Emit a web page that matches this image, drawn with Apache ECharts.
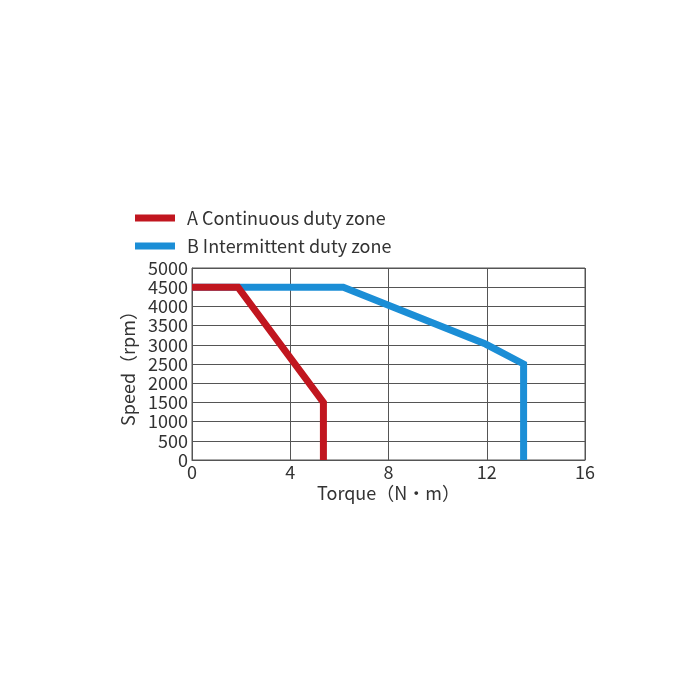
<!DOCTYPE html>
<html><head><meta charset="utf-8">
<script src="https://cdn.jsdelivr.net/npm/echarts@6/dist/echarts.min.js"></script>
<style>html,body{margin:0;padding:0;background:#fff}#c{width:700px;height:700px}</style>
</head><body><div id="c"></div>
<script>
const seriesNames = ['A Continuous duty zone', 'B Intermittent duty zone'];
const xTicks = [0, 4, 8, 12, 16];
const yTicks = [0, 500, 1000, 1500, 2000, 2500, 3000, 3500, 4000, 4500, 5000];
const redTorque = [0, 1.87, 5.35, 5.35];
const redSpeed = [4500, 4500, 1500, 0];
const blueTorque = [0, 6.16, 11.95, 13.5, 13.5];
const blueSpeed = [4500, 4500, 3020, 2500, 0];

const font = '"Noto Sans CJK SC","Noto Sans",sans-serif';
const chart = echarts.init(document.getElementById('c'));
chart.setOption({
  animation: false,
  textStyle: {fontFamily: font},
  legend: {
    orient: 'vertical', left: 130, top: 204, itemGap: 10,
    itemWidth: 40, itemHeight: 7,
    icon: 'rect',
    textStyle: {fontSize: 18, color: '#333', fontFamily: font, padding: [0, 0, 0, 7]},
    data: seriesNames
  },
  grid: {left: 192, right: 115, top: 268, bottom: 240, show: true, borderColor: '#555', borderWidth: 1},
  xAxis: {
    type: 'value', min: 0, max: 16, interval: 4,
    name: 'Torque（N·m）', nameLocation: 'middle', nameGap: 24,
    nameTextStyle: {fontSize: 18, color: '#333', fontFamily: font},
    axisLine: {show: true, lineStyle: {color: '#555'}},
    axisTick: {show: false},
    axisLabel: {fontSize: 18, color: '#333', margin: 3, formatter: v => xTicks.includes(v) ? String(v) : ''},
    splitLine: {show: true, lineStyle: {color: '#555', width: 1}}
  },
  yAxis: {
    type: 'value', min: 0, max: 5000, interval: 500,
    name: 'Speed（rpm）', nameLocation: 'middle', nameGap: 50, nameRotate: 90,
    nameTextStyle: {fontSize: 18, color: '#333', fontFamily: font},
    axisLine: {show: true, lineStyle: {color: '#555'}},
    axisTick: {show: false},
    axisLabel: {fontSize: 18, color: '#333', margin: 4, formatter: v => yTicks.includes(v) ? String(v) : ''},
    splitLine: {show: true, lineStyle: {color: '#555', width: 1}}
  },
  series: [
    {
      name: seriesNames[0], type: 'line', z: 4, symbol: 'none',
      data: redTorque.map((x, i) => [x, redSpeed[i]]),
      lineStyle: {color: '#c1161f', width: 7, join: 'miter'},
      itemStyle: {color: '#c1161f'}
    },
    {
      name: seriesNames[1], type: 'line', z: 3, symbol: 'none',
      data: blueTorque.map((x, i) => [x, blueSpeed[i]]),
      lineStyle: {color: '#1b8ed6', width: 7, join: 'miter'},
      itemStyle: {color: '#1b8ed6'}
    }
  ]
});
</script></body></html>
